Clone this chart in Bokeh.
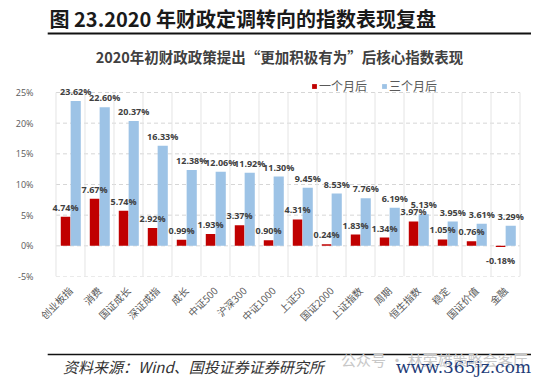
import math
from bokeh.plotting import figure
from bokeh.layouts import column
from bokeh.models import (ColumnDataSource, FactorRange, Range1d, Label, Legend, LegendItem,
                          FixedTicker)
from bokeh.transform import dodge
from bokeh.embed import file_html
from bokeh.resources import INLINE
from bokeh.core.properties import value

# ---------------- data ----------------
categories = ["创业板指", "消费", "国证成长", "深证成指", "成长", "中证500", "沪深300", "中证1000",
              "上证50", "国证2000", "上证指数", "周期", "恒生指数", "稳定", "国证价值", "金融"]
one_month = [4.74, 7.67, 5.74, 2.92, 0.99, 1.93, 3.37, 0.90, 4.31, 0.24, 1.83, 1.34, 3.97, 1.05, 0.76, -0.18]
three_month = [23.62, 22.60, 20.37, 16.33, 12.38, 12.06, 11.92, 11.30, 9.45, 8.53, 7.76, 6.19, 5.13, 3.95, 3.61, 3.29]
series_names = ["一个月后", "三个月后"]
y_ticks = [-5, 0, 5, 10, 15, 20, 25]

header_text = "图 23.2020 年财政定调转向的指数表现复盘"
title_text = "2020年初财政政策提出“更加积极有为”后核心指数表现"
source_text = "资料来源：Wind、国投证券证券研究所"
watermark_text = "公众号 · 林荣雄策略会客厅"
site_text = "www.365jz.com"

RED = "#C00000"
BLUE = "#9DC3E6"
CJK = "Noto Sans CJK SC"
NUM = "Open Sans"

# ---------------- layout (page pixels) ----------------
W, H = 550, 382
TOP_H = 38            # header strip height
MAIN_BOTTOM = 348     # main figure ends here
PLOT_LEFT, PLOT_RIGHT = 48, 527     # first / last category boundary
FRAME_LEFT, FRAME_RIGHT = 40, 535   # frame a bit wider so edge labels are not clipped
FRAME_TOP, FRAME_BOTTOM = TOP_H, 276
PLOT_TOP = 92         # pixel row of the highest tick
PX_PER_UNIT = (FRAME_BOTTOM - PLOT_TOP) / (y_ticks[-1] - y_ticks[0])
Y_TOP = y_ticks[-1] + (PLOT_TOP - FRAME_TOP) / PX_PER_UNIT
PX_PER_CAT = (PLOT_RIGHT - PLOT_LEFT) / len(categories)
X_PAD = (PLOT_LEFT - FRAME_LEFT) / PX_PER_CAT


def sx(fx):
    return fx - FRAME_LEFT


def sy(fy):
    return FRAME_BOTTOM - fy


def strip(height, y0):
    f = figure(width=W, height=height, output_backend="svg", toolbar_location=None,
               x_range=Range1d(0, W), y_range=Range1d(y0 + height, y0),
               x_axis_location=None, y_axis_location=None, min_border=0)
    f.grid.visible = False
    f.outline_line_color = None
    f.background_fill_color = "white"
    f.border_fill_color = "white"
    return f


# ---------------- header strip ----------------
top = strip(TOP_H, 0)
top.text(x=[10], y=[17.5], text=[header_text], text_font=value(CJK), text_font_size="20px",
         text_font_style="bold", text_color="#1a1a1a", text_baseline="middle", text_align="left")
top.segment(x0=[8], y0=[33], x1=[545], y1=[33], line_color="#111111", line_width=2)

# ---------------- main chart ----------------
p = figure(width=W, height=MAIN_BOTTOM - TOP_H, output_backend="svg", toolbar_location=None,
           x_range=FactorRange(factors=categories, range_padding=2 * X_PAD,
                               range_padding_units="absolute"),
           y_range=Range1d(y_ticks[0], Y_TOP),
           min_border_left=FRAME_LEFT, min_border_right=W - FRAME_RIGHT,
           min_border_top=0, min_border_bottom=MAIN_BOTTOM - FRAME_BOTTOM)
p.outline_line_color = None
p.background_fill_color = "white"
p.border_fill_color = "white"

lab1 = [f"{v:.2f}%" for v in one_month]
lab3 = [f"{v:.2f}%" for v in three_month]
src = ColumnDataSource(dict(cat=categories, m1=one_month, m3=three_month, l1=lab1, l3=lab3))
pos_idx = [i for i, v in enumerate(one_month) if v >= 0]
neg_idx = [i for i, v in enumerate(one_month) if v < 0]
src_pos = ColumnDataSource(dict(cat=[categories[i] for i in pos_idx], m1=[one_month[i] for i in pos_idx],
                                l1=[lab1[i] for i in pos_idx]))
src_neg = ColumnDataSource(dict(cat=[categories[i] for i in neg_idx], m1=[one_month[i] for i in neg_idx],
                                l1=[lab1[i] for i in neg_idx]))

# grids (drawn over the category span only)
p.grid.visible = False
n = len(categories)
p.segment(x0=[0] * len(y_ticks), y0=y_ticks, x1=[n] * len(y_ticks), y1=y_ticks,
          line_color="#D6D6D6", line_dash="4 3", line_width=1)
bounds = list(range(n + 1))
p.segment(x0=bounds, y0=[y_ticks[0]] * len(bounds), x1=bounds, y1=[y_ticks[-1]] * len(bounds),
          line_color="#E4E4E4", line_width=1)

# bars
r1 = p.vbar(x=dodge("cat", -0.17, range=p.x_range), top="m1", bottom=0, width=0.33,
            fill_color=RED, line_color=None, source=src)
r3 = p.vbar(x=dodge("cat", 0.18, range=p.x_range), top="m3", bottom=0, width=0.35,
            fill_color=BLUE, line_color=None, source=src)

# value labels
common = dict(text_font=value(NUM), text_font_size="9px", text_font_style="bold",
              text_color="#404040", text_align="center")
p.text(x=dodge("cat", -0.17, range=p.x_range), y="m1", text="l1", source=src_pos,
       text_baseline="bottom", y_offset=-3, **common)
p.text(x=dodge("cat", -0.17, range=p.x_range), y="m1", text="l1", source=src_neg,
       text_baseline="top", y_offset=7, **common)
p.text(x=dodge("cat", 0.18, range=p.x_range), y="m3", text="l3", source=src,
       text_baseline="bottom", y_offset=-3, **common)

# axes
p.yaxis.ticker = FixedTicker(ticks=y_ticks)
p.yaxis.major_label_overrides = {t: f"{t}%" for t in y_ticks}
p.yaxis.axis_line_color = None
p.yaxis.major_tick_line_color = None
p.yaxis.minor_tick_line_color = None
p.yaxis.major_label_text_font = NUM
p.yaxis.major_label_text_font_size = "9px"
p.yaxis.major_label_text_color = "#595959"
p.yaxis.major_label_standoff = 1

p.xaxis.axis_line_color = None
p.xaxis.major_tick_line_color = None
p.xaxis.major_label_orientation = math.pi / 4
p.xaxis.major_label_text_font = CJK
p.xaxis.major_label_text_font_size = "10px"
p.xaxis.major_label_text_color = "#595959"
p.xaxis.major_label_standoff = 6

# legend
legend = Legend(items=[LegendItem(label=series_names[0], renderers=[r1]),
                       LegendItem(label=series_names[1], renderers=[r3])],
                orientation="horizontal", location=(sx(311), sy(94)),
                padding=0, margin=0, spacing=14, label_standoff=2,
                glyph_width=6, glyph_height=6,
                label_text_font=CJK, label_text_font_size="12px", label_text_color="#595959",
                background_fill_alpha=0, border_line_color=None)
p.add_layout(legend, "center")

# chart title
p.add_layout(Label(x=sx(279), y=sy(56), x_units="screen", y_units="screen", text=title_text,
                   text_font=CJK, text_font_size="14.5px", text_font_style="bold",
                   text_color="#404040", text_baseline="middle", text_align="center"))

# ---------------- footer strip ----------------
bot = strip(H - MAIN_BOTTOM, MAIN_BOTTOM)
bot.segment(x0=[8], y0=[354], x1=[545], y1=[354], line_color="#111111", line_width=1.5)
bot.text(x=[334], y=[359], text=[watermark_text], text_font=value(CJK), text_font_size="15px",
         text_color="#C8C8C8", text_baseline="middle", text_align="left")
bot.text(x=[25], y=[366], text=[source_text], text_font=value(CJK), text_font_size="15px",
         text_font_style="italic", text_color="#333333", text_baseline="middle", text_align="left")
bot.text(x=[545], y=[366], text=[site_text], text_font=value("DejaVu Serif"), text_font_size="17px",
         text_color="#1F3C78", text_baseline="middle", text_align="right")

layout = column(top, p, bot, spacing=0)
open("out.html", "w").write(file_html(layout, INLINE))
